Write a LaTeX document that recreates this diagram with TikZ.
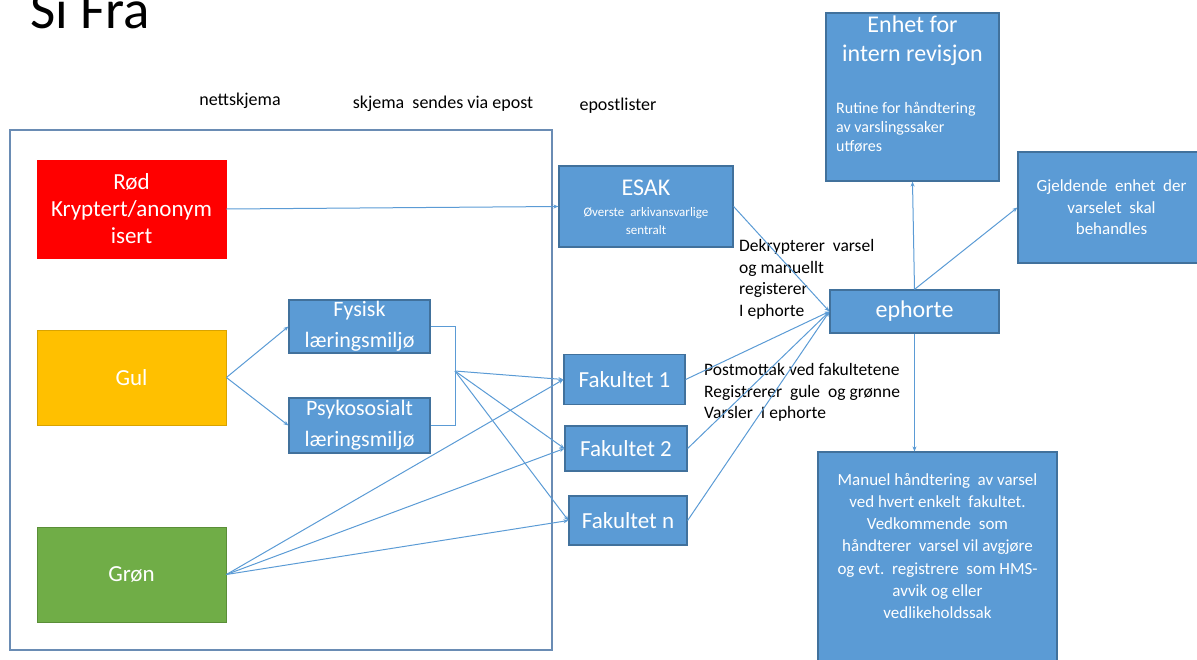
\documentclass[tikz,border=0pt]{standalone}
\usepackage{fontspec}
\setmainfont{Carlito}
\usetikzlibrary{arrows.meta}
\definecolor{boxblue}{HTML}{5B9BD5}
\definecolor{boxline}{HTML}{41719C}
\definecolor{rodc}{HTML}{FF0000}
\definecolor{gulc}{HTML}{FFC000}
\definecolor{gulline}{HTML}{D9A300}
\definecolor{gronc}{HTML}{70AD47}
\definecolor{gronline}{HTML}{5A8E38}
\definecolor{framec}{HTML}{6A8CB4}
\begin{document}
\begin{tikzpicture}[x=1pt,y=-1pt,
  bluebox/.style={draw=boxline, fill=boxblue, line width=1.2pt, text=white, inner sep=0pt, align=center},
  colbox/.style={inner sep=0pt, text=white, align=center, line width=0.8pt, font=\fontsize{23}{27}\selectfont},
  conn/.style={draw=boxblue, line width=1pt, -{Stealth[length=5pt,width=4pt]}},
  plainline/.style={draw=boxblue, line width=1pt},
  whitetext/.style={inner sep=0pt, text=white, align=center},
  lbl/.style={inner sep=0pt, align=left, anchor=west, font=\fontsize{17.5}{21.6}\selectfont},
  toplbl/.style={inner sep=0pt, font=\fontsize{18}{20}\selectfont},
]
\useasboundingbox (0,0) rectangle (1197,659);

% title and top labels
\node[anchor=base west, inner sep=0pt, font=\fontsize{55}{60}\selectfont] (title) at (30,28) {Si Fra};
\node[toplbl] (nett) at (240,101) {nettskjema};
\node[toplbl] (skj) at (443,104) {skjema\ \ sendes via epost};
\node[toplbl] (epl) at (618,106) {epostlister};

% outer frame
\node[draw=framec, line width=1.5pt, minimum width=542pt, minimum height=520pt, inner sep=0pt] (frame) at (281,390) {};

% coloured boxes
\node[colbox, fill=rodc, draw=rodc, minimum width=189pt, minimum height=98pt] (rod) at (131.5,209) {Rød\\Kryptert/anonym\\isert};
\node[colbox, fill=gulc, draw=gulline, minimum width=189pt, minimum height=95pt] (gul) at (131.5,377.5) {Gul};
\node[colbox, fill=gronc, draw=gronline, minimum width=189pt, minimum height=95pt] (gron) at (131.5,574.5) {Grøn};

% learning environment boxes
\node[bluebox, minimum width=141pt, minimum height=53pt, font=\fontsize{22}{31}\selectfont] (fys) at (359.5,326.5) {Fysisk\\læringsmiljø};
\node[bluebox, minimum width=141pt, minimum height=55pt, font=\fontsize{22}{31}\selectfont] (psy) at (359.5,425.5) {Psykososialt\\læringsmiljø};

% ESAK
\node[bluebox, minimum width=174pt, minimum height=81pt] (esak) at (646,206.5) {};
\node[whitetext, font=\fontsize{24}{28}\selectfont] (esakt) at (646,188) {ESAK};
\node[whitetext, font=\fontsize{13}{18}\selectfont] (esaks) at (646,221) {Øverste\ \ arkivansvarlige\\sentralt};

% faculties
\node[bluebox, minimum width=121pt, minimum height=50pt, font=\fontsize{23}{28}\selectfont] (fak1) at (624.5,379.5) {Fakultet 1};
\node[bluebox, minimum width=122pt, minimum height=45pt, font=\fontsize{23}{28}\selectfont] (fak2) at (626,448.5) {Fakultet 2};
\node[bluebox, minimum width=118pt, minimum height=49pt, font=\fontsize{23}{28}\selectfont] (fakn) at (628,520.5) {Fakultet n};

% ephorte
\node[bluebox, minimum width=169pt, minimum height=43pt, font=\fontsize{24}{28}\selectfont] (eph) at (914.5,311.5) {ephorte};

% Enhet for intern revisjon
\node[bluebox, minimum width=173pt, minimum height=168pt] (enhet) at (912.5,97) {};
\node[whitetext, font=\fontsize{24}{29}\selectfont] (enhett) at (912.5,40.5) {Enhet for\\intern revisjon};
\node[whitetext, anchor=west, align=left, font=\fontsize{16}{19}\selectfont] (enhets) at (836,127) {Rutine for håndtering\\av varslingssaker\\utføres};

% Gjeldende enhet
\node[bluebox, minimum width=187pt, minimum height=111pt, font=\fontsize{17}{21.5}\selectfont] (gjel) at (1111.5,207.5) {Gjeldende\ \ enhet\ \ der\\varselet\ \ skal\\behandles};

% Manuel handtering
\node[bluebox, minimum width=239pt, minimum height=218pt] (man) at (937.5,561) {};
\node[whitetext, font=\fontsize{17}{22.3}\selectfont] (mant) at (937.5,546) {Manuel håndtering\ \ av varsel\\ved hvert enkelt\ \ fakultet.\\Vedkommende\ \ som\\håndterer\ \ varsel vil avgjøre\\og evt.\ \ registrere\ \ som HMS-\\avvik og eller\\vedlikeholdssak};

% text labels
\node[lbl] (dek) at (739,279.5) {Dekrypterer\ \ varsel\\og manuellt\\registerer\\I ephorte};
\node[lbl] (post) at (704,392.5) {Postmottak ved fakultetene\\Registrerer\ \ gule\ \ og grønne\\Varsler\ \ I ephorte};

% connectors
\draw[conn] (rod.east) -- (esak.west);
\draw[conn] (gul.east) -- (fys.west);
\draw[conn] (gul.east) -- (psy.west);
\draw[plainline] (fys.east) -- ++(25,0) |- (psy.east);
\coordinate (jn) at (455,371);
\draw[conn] (jn) -- (fak1.west);
\draw[conn] (jn) -- (fak2.west);
\draw[conn] (jn) -- (fakn.west);
\draw[conn] (gron.east) -- (fak1.west);
\draw[conn] (gron.east) -- (fak2.west);
\draw[conn] (gron.east) -- (fakn.west);
\draw[conn] (esak.east) -- (eph.west);
\draw[conn] (fak1.east) -- (eph.west);
\draw[conn] (fak2.east) -- (eph.west);
\draw[conn] (fakn.east) -- (eph.west);
\draw[conn] (eph.north) -- (enhet.south);
\draw[conn] (eph.north) -- (gjel.west);
\draw[conn] (eph.south) -- (eph.south |- man.north);
\end{tikzpicture}
\end{document}
